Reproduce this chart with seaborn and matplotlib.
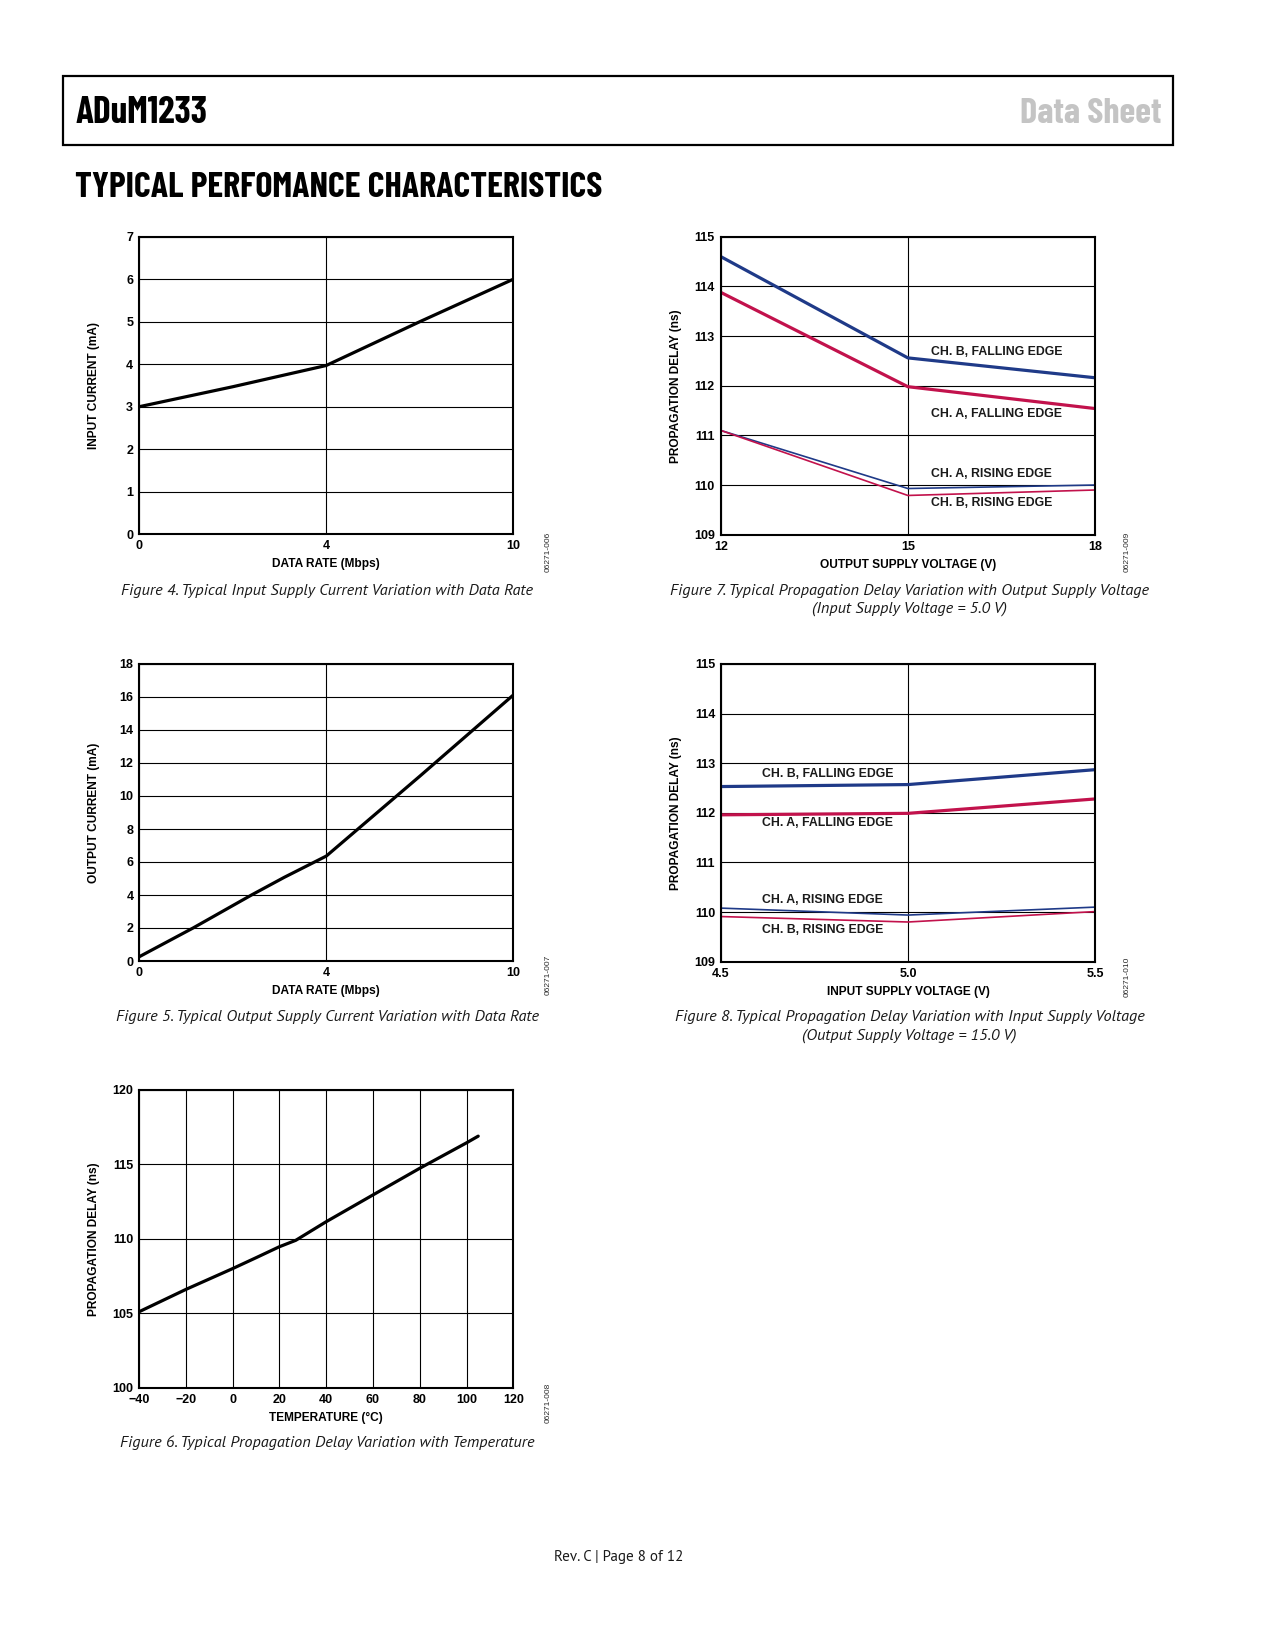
"""Typical performance characteristics page, ADuM1233 data sheet (page 8)."""

import numpy as np
import pandas as pd
import seaborn as sns
import matplotlib
matplotlib.use("Agg")
import matplotlib.pyplot as plt
from matplotlib.patches import Rectangle
from matplotlib.ticker import FormatStrFormatter

W, H = 1275, 1650

# Figure 4: input supply current vs data rate
rate_in = [0, 2, 4, 7, 10]
input_current = [3.0, 3.47, 3.97, 5.0, 6.0]

# Figure 5: output supply current vs data rate
rate_out = [0, 1.15, 2.4, 3.1, 4, 7, 10]
output_current = [0.26, 2.0, 4.0, 5.07, 6.36, 11.2, 16.12]

# Figure 6: propagation delay vs temperature
temperature = [-40, -20, 0, 10, 20, 27, 40, 60, 80, 100, 105]
delay_temp = [105.1, 106.6, 108.0, 108.73, 109.47, 109.9, 111.15, 112.95, 114.74, 116.45, 116.9]

# Figure 7: propagation delay vs output supply voltage
vdd2 = [12, 15, 18]
f7_b_fall = [114.6, 112.56, 112.16]
f7_a_fall = [113.88, 111.98, 111.54]
f7_a_rise = [111.1, 109.93, 110.0]
f7_b_rise = [111.1, 109.79, 109.9]

# Figure 8: propagation delay vs input supply voltage
vdd1 = [4.5, 5.0, 5.5]
f8_b_fall = [112.53, 112.57, 112.87]
f8_a_fall = [111.96, 111.99, 112.28]
f8_a_rise = [110.08, 109.94, 110.1]
f8_b_rise = [109.91, 109.80, 110.01]

series_names = ["CH. B, FALLING EDGE", "CH. A, FALLING EDGE",
                "CH. A, RISING EDGE", "CH. B, RISING EDGE"]

BLUE = "#1f3a88"
RED = "#c2124c"
SERIES_STYLE = {
    "CH. B, FALLING EDGE": (BLUE, 2.3),
    "CH. A, FALLING EDGE": (RED, 2.3),
    "CH. A, RISING EDGE": (BLUE, 1.2),
    "CH. B, RISING EDGE": (RED, 1.2),
}
HEAD_FONT = "Barlow Condensed"
BODY_FONT = "PT Sans"

sns.set_theme(style="white")
plt.rcParams["font.family"] = ["Liberation Sans", "DejaVu Sans"]
plt.rcParams["font.weight"] = "bold"
plt.rcParams["axes.unicode_minus"] = True

fig = plt.figure(figsize=(W / 100, H / 100), dpi=100)


def fx(x):
    return x / W


def fy(y):
    return 1 - y / H


def make_axes(left, top, right, bottom):
    return fig.add_axes([fx(left), fy(bottom), (right - left) / W, (bottom - top) / H])


def rate_fwd(x):
    x = np.asarray(x, dtype=float)
    return np.where(x <= 4, x / 8.0, 0.5 + (x - 4) / 12.0)


def rate_inv(u):
    u = np.asarray(u, dtype=float)
    return np.where(u <= 0.5, u * 8.0, 4 + (u - 0.5) * 12.0)


def style_axes(ax, xlabel, ylabel, box):
    left, top, right, bottom = box
    ax.set_axisbelow(True)
    ax.grid(True, color="black", linewidth=0.8)
    for s in ax.spines.values():
        s.set_visible(True)
        s.set_color("black")
        s.set_linewidth(1.5)
    ax.tick_params(length=0, pad=4.2, labelsize=9, colors="black")
    ax.set_xlabel(xlabel, fontsize=8.6, fontweight="bold", color="black")
    ax.set_ylabel(ylabel, fontsize=8.6, fontweight="bold", color="black")
    w, h = right - left, bottom - top
    ax.xaxis.set_label_coords(0.5, -(24.0 / h))
    ax.yaxis.set_label_coords(-(39.0 / w), 0.5)
    if ax.get_legend() is not None:
        ax.get_legend().remove()


def add_caption(x, ys, lines):
    for y, line in zip(ys, lines):
        fig.text(fx(x), fy(y), line, ha="center", va="center", fontsize=11.7,
                 family=BODY_FONT, style="italic", fontweight="normal", color="#1a1a1a")


def add_fig_id(x, y, text):
    fig.text(fx(x), fy(y), text, rotation=90, ha="center", va="center", fontsize=6,
             fontweight="normal", color="#2a2a2a")


# ---- Header ----
fig.patches.append(Rectangle((fx(62.7), fy(145)), (1173.3 - 62.7) / W, (145 - 75.7) / H,
                             transform=fig.transFigure, fill=False, edgecolor="black", linewidth=1.6))
fig.text(fx(76), fy(123.3), "ADuM1233", ha="left", va="baseline", fontsize=26.8,
         family=HEAD_FONT, fontweight="bold", color="black")
fig.text(fx(1161.7), fy(123.3), "Data Sheet", ha="right", va="baseline", fontsize=26,
         family=HEAD_FONT, fontweight="bold", color="#c4c4c4")
fig.text(fx(75), fy(197.3), "TYPICAL PERFOMANCE CHARACTERISTICS", ha="left", va="baseline",
         fontsize=25.9, family=HEAD_FONT, fontweight="bold", color="black")

# ---- Figure 4 ----
box4 = (139, 236.7, 513.3, 534.3)
ax4 = make_axes(*box4)
df4 = pd.DataFrame({"rate": rate_in, "current": input_current})
sns.lineplot(data=df4, x="rate", y="current", ax=ax4, color="black", linewidth=2.3,
             estimator=None, sort=False)
ax4.set_xscale("function", functions=(rate_fwd, rate_inv))
ax4.set_xlim(0, 10)
ax4.set_ylim(0, 7)
ax4.set_xticks([0, 4, 10])
ax4.set_yticks(range(0, 8))
style_axes(ax4, "DATA RATE (Mbps)", "INPUT CURRENT (mA)", box4)
add_fig_id(548, 552, "06271-006")
add_caption(327, [591], ["Figure 4. Typical Input Supply Current Variation with Data Rate"])

# ---- Figure 5 ----
box5 = (139.3, 664, 513.3, 961)
ax5 = make_axes(*box5)
df5 = pd.DataFrame({"rate": rate_out, "current": output_current})
sns.lineplot(data=df5, x="rate", y="current", ax=ax5, color="black", linewidth=2.3,
             estimator=None, sort=False)
ax5.set_xscale("function", functions=(rate_fwd, rate_inv))
ax5.set_xlim(0, 10)
ax5.set_ylim(0, 18)
ax5.set_xticks([0, 4, 10])
ax5.set_yticks(range(0, 19, 2))
style_axes(ax5, "DATA RATE (Mbps)", "OUTPUT CURRENT (mA)", box5)
add_fig_id(548, 975, "06271-007")
add_caption(327, [1017], ["Figure 5. Typical Output Supply Current Variation with Data Rate"])

# ---- Figure 6 ----
box6 = (139, 1090, 513.3, 1387.7)
ax6 = make_axes(*box6)
df6 = pd.DataFrame({"temp": temperature, "delay": delay_temp})
sns.lineplot(data=df6, x="temp", y="delay", ax=ax6, color="black", linewidth=2.3,
             estimator=None, sort=False)
ax6.set_xlim(-40, 120)
ax6.set_ylim(100, 120)
ax6.set_xticks(range(-40, 121, 20))
ax6.set_yticks(range(100, 121, 5))
style_axes(ax6, "TEMPERATURE (°C)", "PROPAGATION DELAY (ns)", box6)
add_fig_id(548, 1403, "06271-008")
add_caption(327, [1443], ["Figure 6. Typical Propagation Delay Variation with Temperature"])


def channel_plot(box, xvals, ys, xlim, xticks, xlabel, label_x, label_ys, fig_id, id_xy,
                 caption_lines, caption_ys):
    ax = make_axes(*box)
    df = pd.DataFrame({
        "v": np.tile(xvals, len(series_names)),
        "delay": np.concatenate(ys),
        "series": np.repeat(series_names, len(xvals)),
    })
    for name in series_names:
        color, lw = SERIES_STYLE[name]
        sns.lineplot(data=df[df["series"] == name], x="v", y="delay", ax=ax, color=color,
                     linewidth=lw, estimator=None, sort=False)
    ax.set_xlim(*xlim)
    ax.set_ylim(109, 115)
    ax.set_xticks(xticks)
    ax.set_yticks(range(109, 116))
    style_axes(ax, xlabel, "PROPAGATION DELAY (ns)", box)
    for name, ly in zip(series_names, label_ys):
        ax.text(label_x, ly, name, ha="left", va="center", fontsize=8.8,
                fontweight="bold", color="#1a1a1a")
    add_fig_id(id_xy[0], id_xy[1], fig_id)
    add_caption(909.5, caption_ys, caption_lines)
    return ax


# ---- Figure 7 ----
ax7 = channel_plot((720.7, 236.7, 1095, 534.7), vdd2, [f7_b_fall, f7_a_fall, f7_a_rise, f7_b_rise],
                   (12, 18), [12, 15, 18], "OUTPUT SUPPLY VOLTAGE (V)",
                   15.37, [112.68, 111.44, 110.23, 109.63], "06271-009", (1127, 552),
                   ["Figure 7. Typical Propagation Delay Variation with Output Supply Voltage",
                    "(Input Supply Voltage = 5.0 V)"], [591, 609])

# ---- Figure 8 ----
ax8 = channel_plot((721, 664, 1095, 961.7), vdd1, [f8_b_fall, f8_a_fall, f8_a_rise, f8_b_rise],
                   (4.5, 5.5), [4.5, 5.0, 5.5], "INPUT SUPPLY VOLTAGE (V)",
                   4.61, [112.78, 111.79, 110.25, 109.64], "06271-010", (1127, 977),
                   ["Figure 8. Typical Propagation Delay Variation with Input Supply Voltage",
                    "(Output Supply Voltage = 15.0 V)"], [1017, 1036])
ax8.xaxis.set_major_formatter(FormatStrFormatter("%.1f"))

# ---- Footer ----
fig.text(fx(619), fy(1557), "Rev. C | Page 8 of 12", ha="center", va="center", fontsize=10.8,
         family=BODY_FONT, fontweight="normal", color="#1a1a1a")

fig.savefig("out.png", dpi=100)
